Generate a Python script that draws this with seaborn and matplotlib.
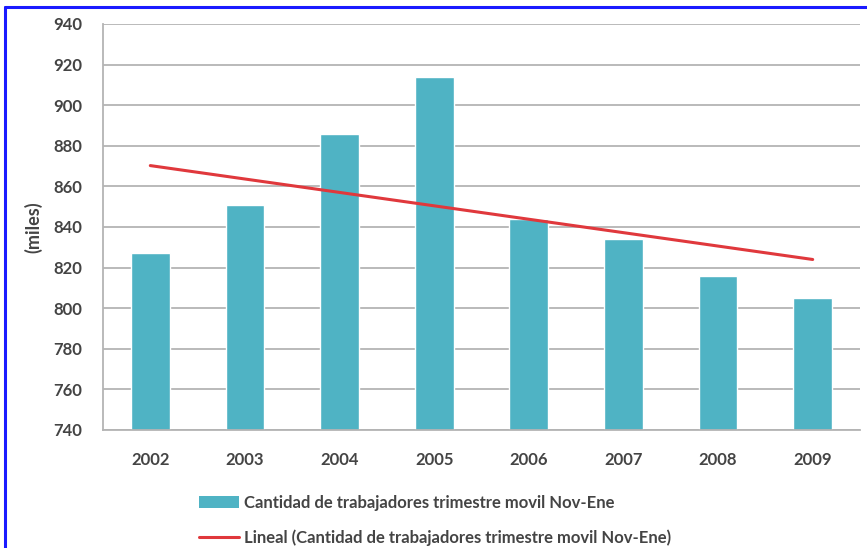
import numpy as np
import pandas as pd
import matplotlib
matplotlib.use("Agg")
import matplotlib.pyplot as plt
import seaborn as sns
from matplotlib.patches import Patch
from matplotlib.lines import Line2D

years = ["2002", "2003", "2004", "2005", "2006", "2007", "2008", "2009"]
workers = [827, 851, 886, 914, 844, 834, 816, 805]
y_ticks = [740, 760, 780, 800, 820, 840, 860, 880, 900, 920, 940]
bar_label = "Cantidad de trabajadores trimestre movil Nov-Ene"
trend_label = "Lineal (Cantidad de trabajadores trimestre movil Nov-Ene)"
y_label = "(miles)"

sns.set_theme(style="white")
plt.rcParams["font.family"] = ["Lato", "DejaVu Sans"]

BAR = "#4fb3c4"
RED = "#e0383c"
TXT = "#444444"
GRID = "#b4b4b4"

df = pd.DataFrame({"year": years, "workers": workers})

fig = plt.figure(figsize=(8.67, 5.48), dpi=100)
ax = fig.add_axes([103/867, 1-430/548, (860-103)/867, (430-24)/548])

sns.barplot(data=df, x="year", y="workers", color=BAR, width=0.41,
            saturation=1, ax=ax, zorder=2)
sns.regplot(x=np.arange(len(workers)), y=np.array(workers, dtype=float),
            scatter=False, ci=None, truncate=True, ax=ax,
            line_kws=dict(color=RED, lw=2.2, zorder=3))

ax.set_ylim(740, 940)
ax.set_xlim(-0.5, len(years) - 0.5)
ax.set_yticks(y_ticks)
ax.set_yticklabels([str(v) for v in y_ticks])
ax.set_xticks(np.arange(len(years)))
ax.set_xticklabels(years)
ax.yaxis.grid(True, color=GRID, lw=1.3, zorder=0)
ax.set_axisbelow(True)
for s in ["top", "right"]:
    ax.spines[s].set_visible(False)
for s in ["left", "bottom"]:
    ax.spines[s].set_color(GRID)
    ax.spines[s].set_linewidth(1.3)

ax.tick_params(axis="y", which="major", length=4, color=GRID, width=1.3,
               pad=11, labelsize=12, labelcolor=TXT)
ax.tick_params(axis="x", which="major", length=0, pad=16, labelsize=12,
               labelcolor=TXT)
for t in ax.get_xticklabels() + ax.get_yticklabels():
    t.set_fontweight("bold")
# boundary tick marks on x axis
ax.set_xticks(np.arange(-0.5, len(years) + 0.5, 1), minor=True)
ax.tick_params(axis="x", which="minor", length=5, color=GRID, width=1.3,
               direction="out")

ax.set_xlabel("")
ax.set_ylabel(y_label, fontsize=13, fontweight="bold", color=TXT, labelpad=8)

handles = [Patch(facecolor=BAR, edgecolor="none", label=bar_label),
           Line2D([0], [0], color=RED, lw=2.2, label=trend_label)]
leg = fig.legend(handles=handles, loc="upper left",
                 bbox_to_anchor=(192/867, 1-488/548), frameon=False,
                 fontsize=12, handlelength=2.4, handletextpad=0.3,
                 labelspacing=1.1, borderaxespad=0)
for t in leg.get_texts():
    t.set_color(TXT)
    t.set_fontweight("bold")

# blue frame (top and left edges)
fig.add_artist(Line2D([5/867, 5/867], [0, 1-7/548], color="#1a1aff",
                      lw=2.2, transform=fig.transFigure))
fig.add_artist(Line2D([5/867, 1], [1-7/548, 1-7/548], color="#1a1aff",
                      lw=2.2, transform=fig.transFigure))

fig.savefig("out.png", dpi=100)
